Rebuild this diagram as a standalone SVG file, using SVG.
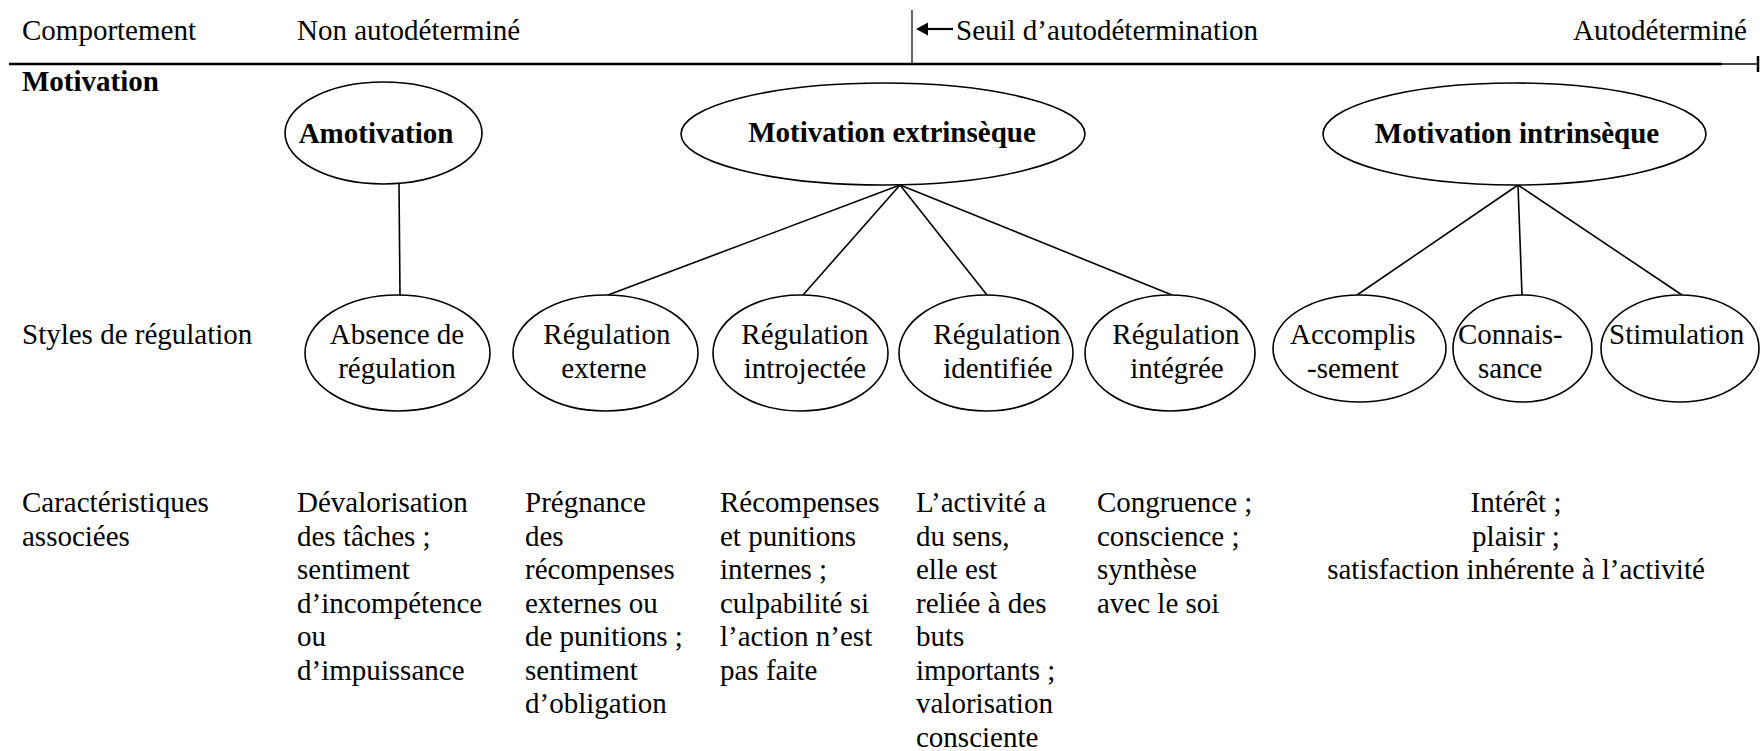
<svg xmlns="http://www.w3.org/2000/svg" width="1760" height="751" viewBox="0 0 1760 751">
<style>
text{font-family:"Liberation Serif","Times New Roman",serif;font-size:29px;fill:#000}
.b{font-weight:bold}
.m{text-anchor:middle}
ellipse{fill:#fff;stroke:#000;stroke-width:1.6}
.c line{stroke:#000;stroke-width:1.6}
</style>
<rect width="1760" height="751" fill="#fff"/>
<g id="header">
<text x="22" y="40">Comportement</text>
<text x="297" y="40">Non autodéterminé</text>
<line x1="912" y1="10" x2="912" y2="64" stroke="#000" stroke-width="1.2"/>
<line x1="924" y1="29" x2="953" y2="29" stroke="#000" stroke-width="2.2"/>
<polygon points="916,29 928,22.5 928,35.5" fill="#000"/>
<text x="956" y="40">Seuil d’autodétermination</text>
<text x="1747" y="40" text-anchor="end">Autodéterminé</text>
<line x1="9" y1="64" x2="1722" y2="64" stroke="#000" stroke-width="2.6"/>
<line x1="1722" y1="64" x2="1758" y2="64" stroke="#000" stroke-width="1.4"/>
<line x1="1758" y1="56" x2="1758" y2="72" stroke="#000" stroke-width="2.5"/>
<text x="22" y="91" class="b">Motivation</text>
<text x="22" y="344">Styles de régulation</text>
<text x="22" y="512">Caractéristiques</text>
<text x="22" y="545.5">associées</text>
</g>
<g id="connectors" class="c">
<line x1="399" y1="184" x2="400" y2="295"/>
<line x1="900" y1="185" x2="608" y2="295"/>
<line x1="900" y1="185" x2="803" y2="295"/>
<line x1="900" y1="185" x2="987" y2="295"/>
<line x1="900" y1="185" x2="1172" y2="295"/>
<line x1="1518" y1="185" x2="1357" y2="295"/>
<line x1="1518" y1="185" x2="1522" y2="295"/>
<line x1="1518" y1="185" x2="1682" y2="295"/>
</g>
<g id="amotivation">
<ellipse cx="383.5" cy="133" rx="98.5" ry="51"/>
<text x="376" y="143" class="b m">Amotivation</text>
</g>
<g id="extrinseque">
<ellipse cx="883" cy="134" rx="202" ry="51"/>
<text x="892" y="142" class="b m">Motivation extrinsèque</text>
</g>
<g id="intrinseque">
<ellipse cx="1514.5" cy="134" rx="191.5" ry="51"/>
<text x="1517" y="143" class="b m">Motivation intrinsèque</text>
</g>
<g id="absence">
<ellipse cx="397.5" cy="353" rx="92.5" ry="58"/>
<text x="397" y="344" class="m">Absence de</text>
<text x="397" y="378" class="m">régulation</text>
</g>
<g id="externe">
<ellipse cx="605.5" cy="353" rx="92.5" ry="58"/>
<text x="607" y="344" class="m">Régulation</text>
<text x="604" y="378" class="m">externe</text>
</g>
<g id="introjectee">
<ellipse cx="800.5" cy="353" rx="87.5" ry="58"/>
<text x="805" y="344" class="m">Régulation</text>
<text x="805" y="378" class="m">introjectée</text>
</g>
<g id="identifiee">
<ellipse cx="986" cy="353" rx="87" ry="58"/>
<text x="997" y="344" class="m">Régulation</text>
<text x="998" y="378" class="m">identifiée</text>
</g>
<g id="integree">
<ellipse cx="1170" cy="353" rx="85" ry="58"/>
<text x="1176" y="344" class="m">Régulation</text>
<text x="1177" y="378" class="m">intégrée</text>
</g>
<g id="accomplissement">
<ellipse cx="1359.5" cy="348.5" rx="86.5" ry="53.5"/>
<text x="1290" y="344">Accomplis</text>
<text x="1307" y="378">-sement</text>
</g>
<g id="connaissance">
<ellipse cx="1522.5" cy="348.5" rx="69.5" ry="53.5"/>
<text x="1458" y="344">Connais-</text>
<text x="1478" y="378">sance</text>
</g>
<g id="stimulation">
<ellipse cx="1680" cy="348.5" rx="79" ry="53.5"/>
<text x="1609" y="344">Stimulation</text>
</g>
<g id="carac-amotivation">
<text x="297" y="512">Dévalorisation</text>
<text x="297" y="545.5">des tâches ;</text>
<text x="297" y="579">sentiment</text>
<text x="297" y="612.5">d’incompétence</text>
<text x="297" y="646">ou</text>
<text x="297" y="679.5">d’impuissance</text>
</g>
<g id="carac-externe">
<text x="525" y="512">Prégnance</text>
<text x="525" y="545.5">des</text>
<text x="525" y="579">récompenses</text>
<text x="525" y="612.5">externes ou</text>
<text x="525" y="646">de punitions ;</text>
<text x="525" y="679.5">sentiment</text>
<text x="525" y="713">d’obligation</text>
</g>
<g id="carac-introjectee">
<text x="720" y="512">Récompenses</text>
<text x="720" y="545.5">et punitions</text>
<text x="720" y="579">internes ;</text>
<text x="720" y="612.5">culpabilité si</text>
<text x="720" y="646">l’action n’est</text>
<text x="720" y="679.5">pas faite</text>
</g>
<g id="carac-identifiee">
<text x="916" y="512">L’activité a</text>
<text x="916" y="545.5">du sens,</text>
<text x="916" y="579">elle est</text>
<text x="916" y="612.5">reliée à des</text>
<text x="916" y="646">buts</text>
<text x="916" y="679.5">importants ;</text>
<text x="916" y="713">valorisation</text>
<text x="916" y="746.5">consciente</text>
</g>
<g id="carac-integree">
<text x="1097" y="512">Congruence ;</text>
<text x="1097" y="545.5">conscience ;</text>
<text x="1097" y="579">synthèse</text>
<text x="1097" y="612.5">avec le soi</text>
</g>
<g id="carac-intrinseque">
<text x="1516" y="512" class="m">Intérêt ;</text>
<text x="1516" y="545.5" class="m">plaisir ;</text>
<text x="1516" y="579" class="m">satisfaction inhérente à l’activité</text>
</g>
</svg>
